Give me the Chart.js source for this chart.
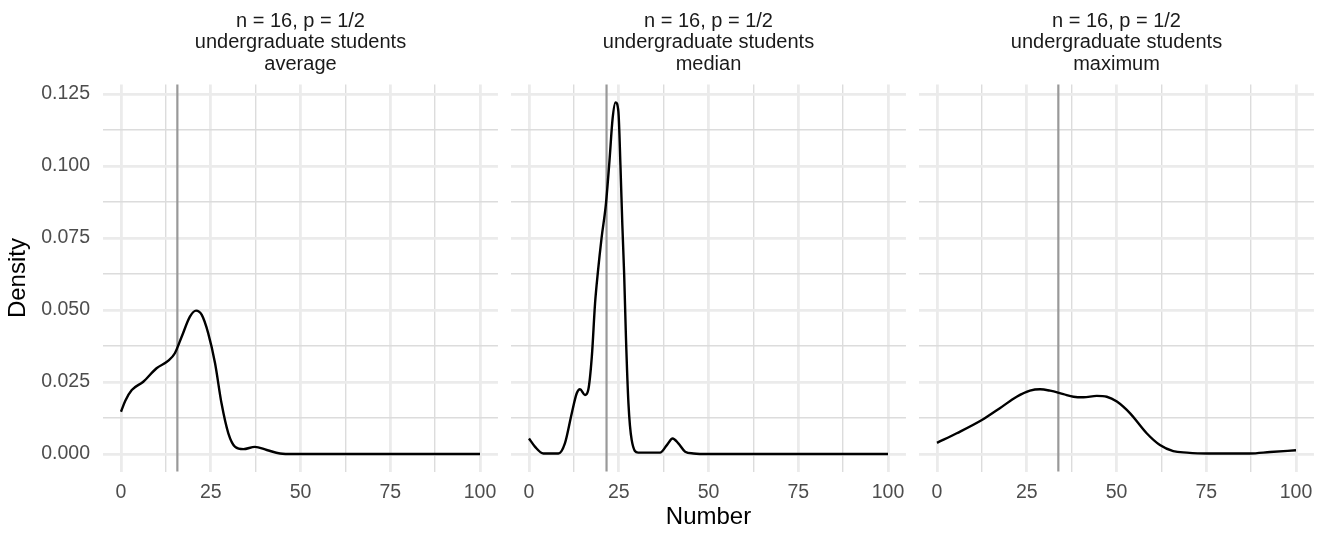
<!DOCTYPE html>
<html>
<head>
<meta charset="utf-8">
<script src="https://cdn.jsdelivr.net/npm/chart.js@4/dist/chart.umd.min.js"></script>
<style>
  html, body { margin: 0; padding: 0; background: #ffffff; }
  #wrap { position: relative; width: 1326px; height: 534px; }
  canvas { position: absolute; left: 0; top: 0; }
</style>
</head>
<body>
<div id="wrap">
  <canvas id="c1" width="1326" height="534"></canvas>
  <canvas id="c2" width="1326" height="534"></canvas>
  <canvas id="c3" width="1326" height="534"></canvas>
</div>
<script>
// ---------- data ----------
const stripLine1 = "n = 16, p = 1/2";
const stripLine2 = "undergraduate students";
const statistics = ["average", "median", "maximum"];

const avgX = [0, 1.2, 3, 6.2, 9.9, 13.2, 15, 16.9, 19.2, 20.9, 22.5, 24.3, 26.2, 28, 29.9, 31.8, 34.1, 37.3, 40.6, 44.3, 48, 60, 80, 100];
const avgY = [0.0147, 0.0185, 0.0222, 0.0251, 0.0298, 0.0324, 0.035, 0.0407, 0.0477, 0.0498, 0.0483, 0.0419, 0.0315, 0.0176, 0.0072, 0.0025, 0.0017, 0.0025, 0.0014, 0.0002, 0, 0, 0, 0];

const medX = [0, 1.7, 4, 8.2, 10, 11.9, 13.3, 14.2, 15.6, 16.5, 17.5, 18.4, 19.2, 20.2, 21.4, 22.4, 23.3, 24.1, 24.9, 25.5, 26, 26.5, 27, 27.7, 28.6, 30.4, 36.5, 38.4, 40, 41.6, 43.5, 45.8, 50, 75, 100];
const medY = [0.0054, 0.0025, 0.0002, 0.0002, 0.0037, 0.0141, 0.0211, 0.0225, 0.0205, 0.0222, 0.0338, 0.0523, 0.0633, 0.0749, 0.0865, 0.1015, 0.1166, 0.1221, 0.1189, 0.0992, 0.0795, 0.0627, 0.0407, 0.0176, 0.0049, 0.0005, 0.0005, 0.0031, 0.0054, 0.0037, 0.0008, 0.0002, 0, 0, 0];

const maxX = [0, 5.5, 12.5, 17.5, 22.2, 25.9, 28.7, 31.5, 35.2, 38, 40.8, 44.5, 47.3, 50.1, 53.8, 58.4, 62.1, 65.8, 69.6, 75.1, 87.2, 92.8, 100];
const maxY = [0.0039, 0.0072, 0.0118, 0.0159, 0.0199, 0.022, 0.0225, 0.022, 0.0208, 0.0199, 0.0197, 0.0202, 0.0199, 0.0182, 0.0141, 0.0072, 0.0031, 0.001, 0.0005, 0.0002, 0.0002, 0.0007, 0.0013];

const vlineX = [15.7, 21.6, 33.8];

const xMajorTicks = [0, 25, 50, 75, 100];
const xMinorTicks = [12.5, 37.5, 62.5, 87.5];
const yMajorTicks = [0, 0.025, 0.05, 0.075, 0.1, 0.125];
const yMinorTicks = [0.0125, 0.0375, 0.0625, 0.0875, 0.1125];

const xLimits = [-5, 105];
const yLimits = [-0.0061, 0.1283];

// ---------- rendering ----------
const FONT = "'Liberation Sans', Arial, Helvetica, sans-serif";
const series = [[avgX, avgY], [medX, medY], [maxX, maxY]];

// panel geometry (plot area in page pixels)
const panels = [
  { left: 103.05, right: 497.95 },
  { left: 511.05, right: 905.95 },
  { left: 919.05, right: 1313.95 }
];
const W = 1326, H = 534;
const plotBottom = 471.6;

function isIn(v, arr) { return arr.some(a => Math.abs(a - v) < 1e-9); }

function makeChart(idx) {
  const [xs, ys] = series[idx];
  const pts = xs.map((x, i) => ({ x: x, y: ys[i] }));
  const vl = [{ x: vlineX[idx], y: yLimits[0] - 1 }, { x: vlineX[idx], y: yLimits[1] + 1 }];
  const p = panels[idx];
  const first = idx === 0;
  const middle = idx === 1;

  return new Chart(document.getElementById('c' + (idx + 1)), {
    type: 'line',
    data: {
      datasets: [
        {
          data: pts,
          borderColor: '#000000',
          borderWidth: 2.4,
          pointRadius: 0,
          cubicInterpolationMode: 'monotone',
          fill: false,
          order: 0
        },
        {
          data: vl,
          borderColor: '#999999',
          borderWidth: 2.2,
          pointRadius: 0,
          tension: 0,
          fill: false,
          order: 1
        }
      ]
    },
    options: {
      responsive: false,
      animation: false,
      devicePixelRatio: 1,
      layout: { padding: { left: first ? 0 : p.left, right: W - p.right, top: 0, bottom: 0 } },
      plugins: {
        legend: { display: false },
        tooltip: { enabled: false },
        title: {
          display: true,
          fullSize: false,
          text: [stripLine1, stripLine2, statistics[idx]],
          color: '#1A1A1A',
          font: { family: FONT, size: 20, weight: 'normal', lineHeight: 1.07 },
          padding: { top: 10.6, bottom: 9.7 }
        }
      },
      scales: {
        x: {
          type: 'linear',
          min: xLimits[0],
          max: xLimits[1],
          border: { display: false },
          afterBuildTicks: (scale) => {
            scale.ticks = xMajorTicks.concat(xMinorTicks).sort((a, b) => a - b).map(v => ({ value: v }));
          },
          afterFit: (scale) => { scale.height = H - plotBottom; },
          grid: {
            drawTicks: false,
            color: (ctx) => isIn(ctx.tick.value, xMajorTicks) ? '#EBEBEB' : '#DCDCDC',
            lineWidth: (ctx) => isIn(ctx.tick.value, xMajorTicks) ? 2.8 : 1.4
          },
          ticks: {
            autoSkip: false,
            maxRotation: 0,
            padding: 9,
            color: '#4D4D4D',
            font: { family: FONT, size: 19.5 },
            callback: (v) => isIn(v, xMajorTicks) ? String(v) : ''
          },
          title: {
            display: middle,
            text: 'Number',
            color: '#000000',
            font: { family: FONT, size: 24 },
            padding: { top: 0, bottom: 2 }
          }
        },
        y: {
          type: 'linear',
          min: yLimits[0],
          max: yLimits[1],
          border: { display: false },
          afterBuildTicks: (scale) => {
            scale.ticks = yMajorTicks.concat(yMinorTicks).sort((a, b) => a - b).map(v => ({ value: v }));
          },
          afterFit: (scale) => { scale.width = first ? p.left : 0; },
          grid: {
            drawTicks: false,
            color: (ctx) => isIn(ctx.tick.value, yMajorTicks) ? '#EBEBEB' : '#DCDCDC',
            lineWidth: (ctx) => isIn(ctx.tick.value, yMajorTicks) ? 2.8 : 1.4
          },
          ticks: {
            display: first,
            autoSkip: false,
            padding: 13,
            color: '#4D4D4D',
            font: { family: FONT, size: 19.5 },
            callback: (v) => isIn(v, yMajorTicks) ? Number(v).toFixed(3) : ''
          },
          title: {
            display: first,
            text: 'Density',
            color: '#000000',
            font: { family: FONT, size: 24 },
            padding: { top: 4, bottom: 0 }
          }
        }
      }
    }
  });
}

makeChart(0);
makeChart(1);
makeChart(2);
</script>
</body>
</html>
